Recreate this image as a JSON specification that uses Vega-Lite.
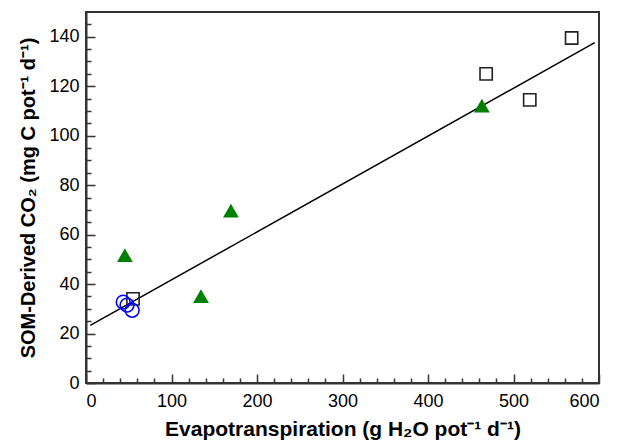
{
  "$schema": "https://vega.github.io/schema/vega-lite/v6.json",
  "width": 513,
  "height": 371,
  "autosize": {"type": "none"},
  "padding": {"left": 86, "top": 12, "right": 25, "bottom": 57},
  "background": "white",
  "config": {
    "view": {"stroke": "#333333", "strokeWidth": 2},
    "axis": {
      "labelFont": "Liberation Sans",
      "titleFont": "Liberation Sans",
      "labelFontSize": 18,
      "titleFontSize": 20,
      "labelColor": "#000000",
      "titleColor": "#000000",
      "titleFontWeight": "bold",
      "domainColor": "#333333",
      "domainWidth": 2,
      "tickColor": "#333333",
      "tickWidth": 1.5,
      "grid": false
    }
  },
  "datasets": {
    "pts": [
      {"et": 55, "co2": 34, "g": "sq"},
      {"et": 468, "co2": 125, "g": "sq"},
      {"et": 519, "co2": 114.5, "g": "sq"},
      {"et": 568, "co2": 139.5, "g": "sq"},
      {"et": 45.5, "co2": 51.5, "g": "tri"},
      {"et": 134.5, "co2": 35, "g": "tri"},
      {"et": 169.5, "co2": 69.5, "g": "tri"},
      {"et": 463, "co2": 112, "g": "tri"},
      {"et": 43.5, "co2": 32.7, "g": "cir"},
      {"et": 48, "co2": 31.5, "g": "cir"},
      {"et": 54, "co2": 29.4, "g": "cir"}
    ],
    "fit": [
      {"et": 5, "co2": 23.3},
      {"et": 595, "co2": 137.6}
    ]
  },
  "layer": [
    {
      "data": {"name": "fit"},
      "mark": {"type": "line", "color": "#000000", "strokeWidth": 1.5},
      "encoding": {
        "x": {"field": "et", "type": "quantitative", "scale": {"domain": [0, 600], "nice": false, "zero": false},
              "axis": {"orient": "bottom", "values": [0,100,200,300,400,500,600], "ticks": false, "labelPadding": 9, "title": "Evapotranspiration (g H₂O pot⁻¹ d⁻¹)", "titleFontSize": 21, "titlePadding": 8}},
        "y": {"field": "co2", "type": "quantitative", "scale": {"domain": [0, 150], "nice": false, "zero": false},
              "axis": {"orient": "left", "values": [0,20,40,60,80,100,120,140], "ticks": false, "labelPadding": 7, "title": "SOM-Derived CO₂ (mg C pot⁻¹ d⁻¹)", "titlePadding": 10}}
      }
    },
    {
      "data": {"name": "fit"},
      "mark": {"type": "point", "opacity": 0},
      "encoding": {
        "x": {"field": "et", "type": "quantitative",
              "axis": {"orient": "bottom", "offset": -5, "tickSize": 5, "values": [20,40,60,80,120,140,160,180,220,240,260,280,320,340,360,380,420,440,460,480,520,540,560,580], "labels": false, "title": null, "domain": false}},
        "y": {"field": "co2", "type": "quantitative",
              "axis": {"orient": "left", "offset": -5, "tickSize": 5, "values": [5,10,15,25,30,35,45,50,55,65,70,75,85,90,95,105,110,115,125,130,135,145], "labels": false, "title": null, "domain": false}}
      }
    },
    {
      "data": {"name": "pts"},
      "mark": {"type": "point", "strokeWidth": 1.6, "opacity": 1},
      "encoding": {
        "x": {"field": "et", "type": "quantitative",
              "axis": {"orient": "bottom", "offset": -9, "tickSize": 9, "values": [0,100,200,300,400,500,600], "labels": false, "title": null, "domain": false}},
        "y": {"field": "co2", "type": "quantitative",
              "axis": {"orient": "left", "offset": -9, "tickSize": 9, "values": [0,20,40,60,80,100,120,140], "labels": false, "title": null, "domain": false}},
        "shape": {"field": "g", "type": "nominal", "legend": null,
                  "scale": {"domain": ["sq", "tri", "cir"], "range": ["square", "triangle-up", "circle"]}},
        "color": {"field": "g", "type": "nominal", "legend": null,
                  "scale": {"domain": ["sq", "tri", "cir"], "range": ["#222222", "#008000", "#0000ff"]}},
        "fill": {"field": "g", "type": "nominal", "legend": null,
                 "scale": {"domain": ["sq", "tri", "cir"], "range": ["transparent", "#008000", "transparent"]}},
        "size": {"field": "g", "type": "nominal", "legend": null,
                 "scale": {"domain": ["sq", "tri", "cir"], "range": [150, 190, 160]}}
      }
    }
  ],
  "resolve": {"axis": {"x": "independent", "y": "independent"}}
}
